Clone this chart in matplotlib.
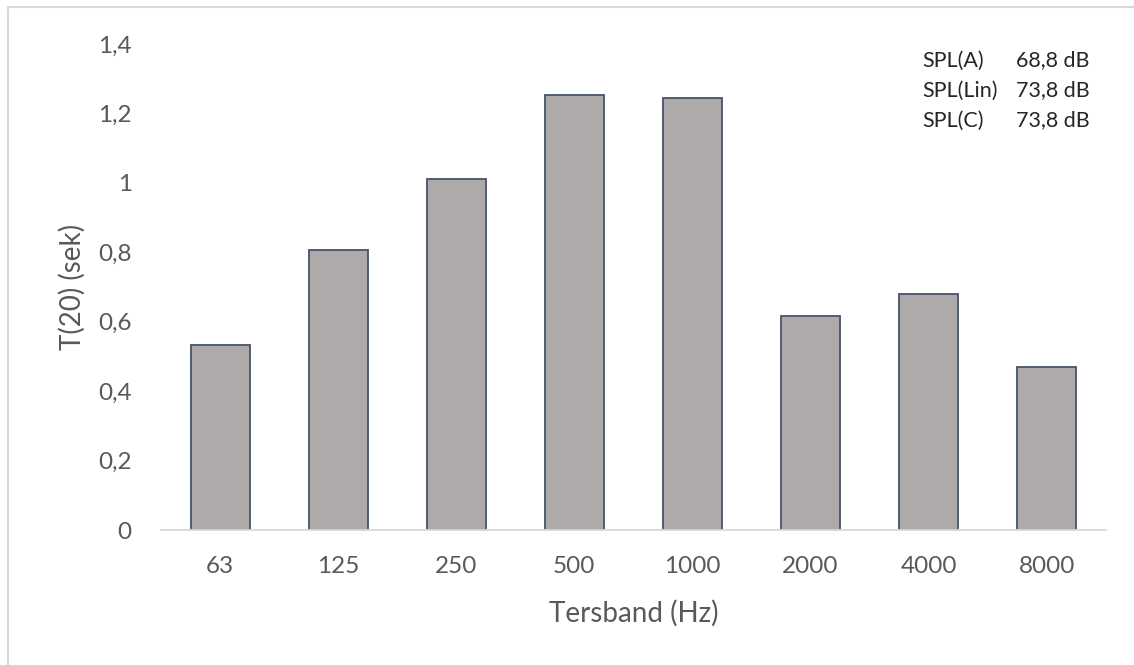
import matplotlib.pyplot as plt
from matplotlib.lines import Line2D

bands = ['63', '125', '250', '500', '1000', '2000', '4000', '8000']
t20 = [0.533, 0.807, 1.011, 1.253, 1.244, 0.616, 0.681, 0.470]
yticks = [0, 0.2, 0.4, 0.6, 0.8, 1.0, 1.2, 1.4]
ytick_labels = ['0', '0,2', '0,4', '0,6', '0,8', '1', '1,2', '1,4']
spl_names = ['SPL(A)', 'SPL(Lin)', 'SPL(C)']
spl_values = ['68,8 dB', '73,8 dB', '73,8 dB']

plt.rcParams['font.family'] = ['Lato', 'DejaVu Sans']
text_col = '#595959'

fig = plt.figure(figsize=(11.34, 6.65), dpi=100)
ax = fig.add_axes([0.142, 0.203, 0.833, 0.731])

x = range(len(bands))
ax.bar(x, t20, width=0.5, color='#AEAAAA', edgecolor='#44546A', linewidth=1.3, zorder=2)

ax.set_xlim(-0.5, len(bands) - 0.5)
ax.set_ylim(0, 1.4)
ax.set_xticks(list(x))
ax.set_xticklabels(bands)
ax.set_yticks(yticks)
ax.set_yticklabels(ytick_labels)
ax.tick_params(length=0, labelsize=17.5, colors=text_col)
ax.tick_params(axis='x', pad=19)
ax.tick_params(axis='y', pad=21)

for s in ['top', 'right', 'left']:
    ax.spines[s].set_visible(False)
ax.spines['bottom'].set_color('#D9D9D9')
ax.spines['bottom'].set_linewidth(1.3)

ax.set_xlabel('Tersband (Hz)', fontsize=20, color=text_col, va='center')
ax.xaxis.set_label_coords(0.5, -0.171)
ax.set_ylabel('T(20) (sek)', fontsize=20, color=text_col, va='center')
ax.yaxis.set_label_coords(-0.094, 0.5)

# SPL info text
for i, (n, v) in enumerate(zip(spl_names, spl_values)):
    fig.text(0.813, 0.909 - i * 0.045, n, fontsize=15.5, color='#262626', va='center')
    fig.text(0.896, 0.909 - i * 0.045, v, fontsize=15.5, color='#262626', va='center')

# chart area border
fig.add_artist(Line2D([0.007, 1.0], [0.990, 0.990], color='#D9D9D9', lw=1.5))
fig.add_artist(Line2D([0.007, 0.007], [0.0, 0.990], color='#D9D9D9', lw=1.5))

fig.savefig('out.png', dpi=100)
